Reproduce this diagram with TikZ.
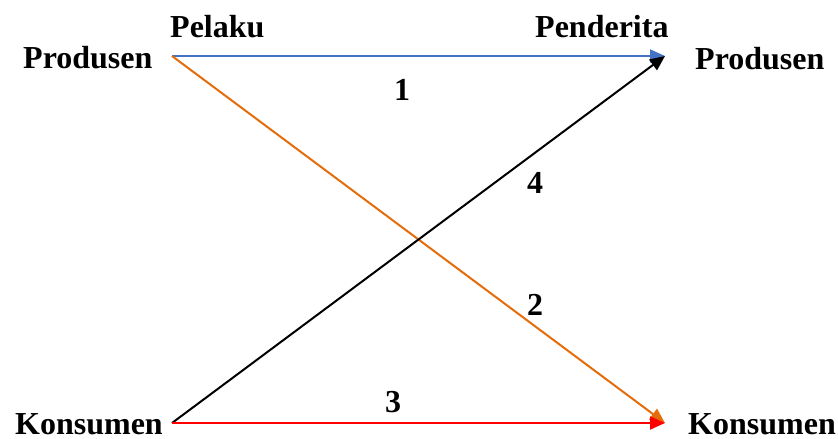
\documentclass[tikz,border=0pt]{standalone}
\usepackage{fontspec}
\setmainfont{Liberation Serif}
\usetikzlibrary{arrows.meta}
\definecolor{cblue}{RGB}{68,114,196}
\definecolor{corange}{RGB}{228,108,10}
\definecolor{cred}{RGB}{255,0,0}
\tikzset{
  lbl/.style={font=\fontsize{32}{38}\selectfont\bfseries, inner sep=0pt, anchor=base west},
  num/.style={font=\fontsize{32}{38}\selectfont\bfseries, inner sep=0pt, anchor=base},
  conn/.style={line width=2pt, -{Triangle[length=15pt,width=13pt]}}
}
\begin{document}
\begin{tikzpicture}[x=1pt,y=-1pt]
\useasboundingbox (0,0) rectangle (838,439);
\node[lbl] (pelaku) at (170,37) {Pelaku};
\node[lbl] (penderita) at (535,37) {Penderita};
\node[lbl] (prodL) at (23,68) {Produsen};
\node[lbl] (prodR) at (695,69) {Produsen};
\node[lbl] (konL) at (15,434) {Konsumen};
\node[lbl] (konR) at (688,434) {Konsumen};
\coordinate (pa) at (172,56);
\coordinate (pb) at (665,56);
\coordinate (ka) at (172,423);
\coordinate (kb) at (665,423);
\draw[conn, cblue] (pa) -- (pb);
\draw[conn, corange] (pa) -- (kb);
\draw[conn, black] (ka) -- (pb);
\draw[conn, cred] (ka) -- (kb);
\node[num] (n1) at (402,100) {1};
\node[num] (n4) at (535,193) {4};
\node[num] (n2) at (535,315) {2};
\node[num] (n3) at (393,412) {3};
\end{tikzpicture}
\end{document}
